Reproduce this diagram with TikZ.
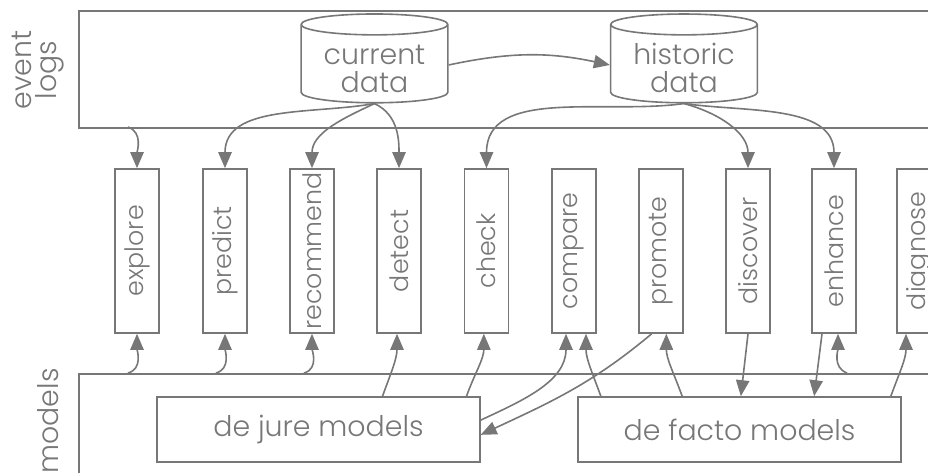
\documentclass[tikz,border=0pt]{standalone}
\usepackage{fontspec}
\setmainfont{Poppins Light}
\usepackage{graphicx}
\usetikzlibrary{shapes.geometric, arrows.meta, positioning}
\definecolor{linegray}{HTML}{777777}
\tikzstyle{arrow} = [draw=linegray, line width=1.2pt, -{Triangle[length=12pt,width=10pt]}]
\tikzstyle{task} = [draw=linegray, line width=1.2pt, minimum width=33pt, minimum height=123pt, inner sep=0pt]
\tikzstyle{store} = [cylinder, shape border rotate=90, aspect=0.2, draw=linegray, line width=1.2pt, minimum width=110pt, minimum height=64.5pt, align=center, inner sep=1pt, font=\fontsize{21.3}{21}\selectfont, text height=42pt, text depth=0pt]
\tikzstyle{modelbox} = [draw=linegray, line width=1.2pt, minimum width=242pt, minimum height=48.75pt, font=\fontsize{21.3}{21}\selectfont]
\tikzstyle{panel} = [draw=linegray, line width=1.2pt, anchor=north west, inner sep=0pt]

\begin{document}
\begin{tikzpicture}[x=0.75pt, y=0.75pt, every node/.style={text=linegray, font=\fontsize{19}{20}\selectfont}]
            \useasboundingbox (0,0) rectangle (928,473);
            \clip (0,0) rectangle (928,473);

            % the two layers
            \node[panel, minimum width=650pt, minimum height=87.75pt] (logs) at (78,463) {};
            \node[panel, minimum width=650pt, minimum height=100pt] (models) at (78,100) {};
            \node[rotate=90, align=center, font=\fontsize{21.3}{19}\selectfont] (logslabel) at (38,403) {event\\logs};
            \node[rotate=90, font=\fontsize{21.3}{19}\selectfont] (modelslabel) at (48,52) {models};

            \node[store] (current) at (374.5,408) {current\\data};
            \node[store] (historic) at (684,408) {historic\\data};

            \node[task] (explore) at (137,222) {\rotatebox{90}{explore}};
            \node[task] (predict) at (225,222) {\rotatebox{90}{predict}};
            \node[task] (recommend) at (312,222) {\rotatebox{90}{recommend}};
            \node[task] (detect) at (399,222) {\rotatebox{90}{detect}};
            \node[task] (check) at (486.5,222) {\rotatebox{90}{check}};
            \node[task] (compare) at (574,222) {\rotatebox{90}{compare}};
            \node[task] (promote) at (661,222) {\rotatebox{90}{promote}};
            \node[task] (discover) at (748,222) {\rotatebox{90}{discover}};
            \node[task] (enhance) at (834,222) {\rotatebox{90}{enhance}};
            \node[task] (diagnose) at (919,222) {\rotatebox{90}{diagnose}};

            \node[modelbox] (dejure) at (318.5,43.5) {de jure models};
            \node[modelbox] (defacto) at (739.5,43.5) {de facto models};

            \coordinate (logsout) at (128,346);
            \coordinate (models1) at (128,100);
            \coordinate (models2) at (216,100);
            \coordinate (models3) at (304,100);
            \coordinate (models4) at (847,100);

            % data flows
            \draw[arrow] (current.east) to[bend left=12] (historic.west);
            \draw[arrow] (logsout) to[out=-20, in=90] (explore.north);
            \draw[arrow] (current.south) to[out=190, in=90] (predict.north);
            \draw[arrow] (current.south) to[out=205, in=90] (recommend.north);
            \draw[arrow] (current.south) to[out=-25, in=90] (detect.north);
            \draw[arrow] (historic.south) to[out=188, in=90] (check.north);
            \draw[arrow] (historic.south) to[out=-15, in=90] (discover.north);
            \draw[arrow] (historic.south) to[out=-8, in=90] (enhance.north);

            % model flows
            \draw[arrow] (models1) to[out=15, in=-90] (explore.south);
            \draw[arrow] (models2) to[out=15, in=-90] (predict.south);
            \draw[arrow] (models3) to[out=15, in=-90] (recommend.south);
            \draw[arrow] ([xshift=48pt]dejure.north) to[out=70, in=-90] ([xshift=-1.5pt]detect.south);
            \draw[arrow] ([xshift=111pt]dejure.north) to[out=70, in=-90] ([xshift=-2pt]check.south);
            \draw[arrow] ([yshift=7pt]dejure.east) to[out=25, in=-90] ([xshift=-6pt]compare.south);
            \draw[arrow] ([xshift=-104pt]defacto.north) to[out=110, in=-90] ([xshift=9pt]compare.south);
            \draw[arrow] ([xshift=-7pt]promote.south) to[out=220, in=25] ([yshift=-4pt]dejure.east);
            \draw[arrow] ([xshift=-43pt]defacto.north) to[out=110, in=-90] ([xshift=4pt]promote.south);
            \draw[arrow] (discover.south) -- ([xshift=1pt]defacto.north);
            \draw[arrow] ([xshift=-9pt]enhance.south) -- ([xshift=56pt]defacto.north);
            \draw[arrow] (models4) to[out=160, in=-90] ([xshift=3pt]enhance.south);
            \draw[arrow] ([xshift=113.5pt]defacto.north) to[out=70, in=-90] ([xshift=-9.75pt]diagnose.south);
        \end{tikzpicture}
\end{document}
